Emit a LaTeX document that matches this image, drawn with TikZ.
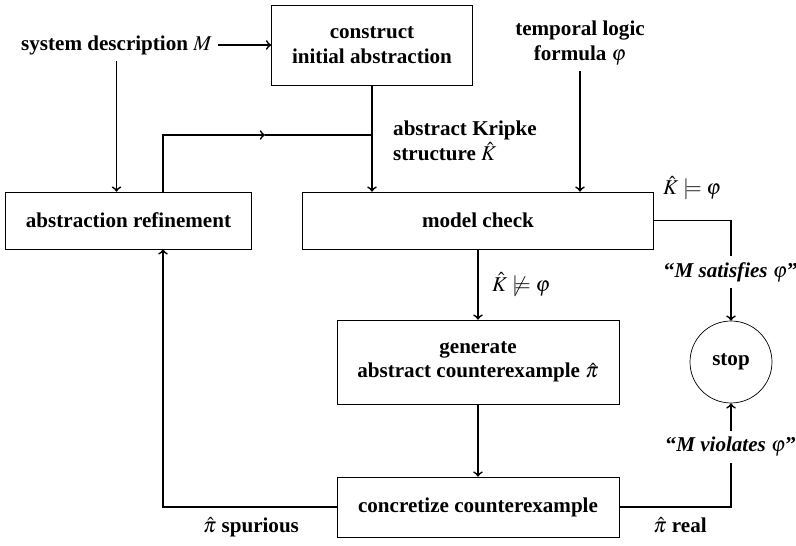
\documentclass[tikz,border=0pt]{standalone}
\IfFileExists{mathptmx.sty}{\usepackage{mathptmx}}{}
\usepackage[no-math]{fontspec}
\setmainfont{Liberation Serif}
\usetikzlibrary{positioning}

\begin{document}
\begin{tikzpicture}[auto,
    font=\fontsize{12}{14}\selectfont\bfseries,
    block/.style={draw, thin, align=center},
    link/.style={line width=1pt},
    lbl/.style={align=center}]
  \useasboundingbox (0,0) rectangle (15.92,10.92);
  % boxes
  \node[block, minimum width=4.02cm, minimum height=1.6cm] (init) at (7.44,10.02) {construct\\initial abstraction};
  \node[block, minimum width=4.92cm, minimum height=1.14cm] (refine) at (2.57,6.51) {abstraction refinement};
  \node[block, minimum width=7.02cm, minimum height=1.14cm] (check) at (9.56,6.51) {model check};
  \node[block, minimum width=5.64cm, minimum height=1.68cm] (gen) at (9.56,3.68) {generate\\abstract counterexample $\hat{\pi}$};
  \node[block, minimum width=5.64cm, minimum height=1.2cm] (conc) at (9.56,0.78) {concretize counterexample};
  \node[draw, thin, circle, minimum size=1.64cm] (stop) at (14.62,3.68) {stop};
  % labels
  \node[lbl] (sys) at (2.33,10.02) {system description $M$};
  \node[lbl] (formula) at (11.6,10.06) {temporal logic\\formula $\varphi$};
  \node[lbl, align=left, anchor=west] (kripke) at (7.74,8.1) {abstract Kripke\\structure $\hat{K}$};
  \node (holds) at (13.84,7.16) {$\hat{K}\models\varphi$};
  \node (sat) at (14.62,5.48) {``\textit{M satisfies} $\varphi$''};
  \node (viol) at (14.62,1.98) {``\textit{M violates} $\varphi$''};
  \node (spur) at (5.02,0.38) {$\hat{\pi}$ spurious};
  \node (real) at (13.6,0.42) {$\hat{\pi}$ real};
  \coordinate (fb) at (3.26,8.22);
  \coordinate (fbmid) at (5.3,8.22);
  % connectors
  \draw[link,->] (sys) -- (init);
  \draw[link,->] (sys.south) -- (sys.south |- refine.north);
  \draw[link,->] (refine.north -| fb) -- (fb) -- (fbmid);
  \draw[link] (fbmid) -- (fb -| init.south);
  \draw[link,->] (init.south) -- (init.south |- check.north);
  \draw[link,->] (formula) -- (formula |- check.north);
  \draw[link,->] (check) -- node[xshift=0.15cm] {$\hat{K}\not\models\varphi$} (gen);
  \draw[link,->] (gen) -- (conc);
  \draw[link] (check.east) -| (sat);
  \draw[link,->] (sat) -- (stop);
  \draw[link] (conc.east) -| (viol);
  \draw[link,->] (viol) -- (stop);
  \draw[link,->] (conc.west) -| (refine.south -| fb);
\end{tikzpicture}
\end{document}
